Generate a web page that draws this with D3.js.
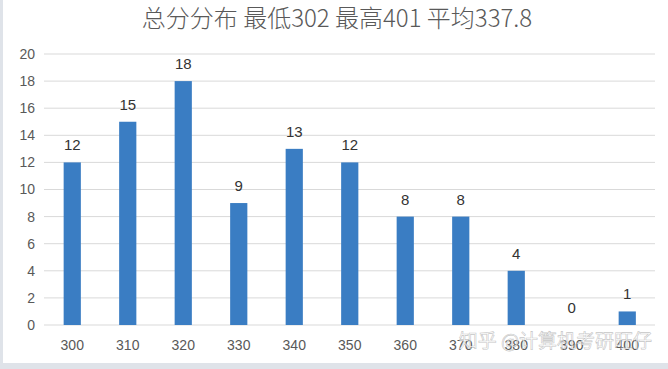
<!DOCTYPE html>
<html>
<head>
<meta charset="utf-8">
<script src="https://cdn.jsdelivr.net/npm/d3@7"></script>
<style>
  body { margin: 0; background: #fff; }
  svg { display: block; }
</style>
</head>
<body>
<svg width="668" height="369"></svg>
<script>
// score buckets and counts
const categories = ['300', '310', '320', '330', '340', '350', '360', '370', '380', '390', '400'];
const counts = [12, 15, 18, 9, 13, 12, 8, 8, 4, 0, 1];
const yTicks = [0, 2, 4, 6, 8, 10, 12, 14, 16, 18, 20];
const title = '总分分布 最低302 最高401 平均337.8';

let svg = d3.select('svg');
let width = 668, height = 369;

// frame: thin left edge, thicker band at bottom
svg.append('rect')
  .attr('x', 0).attr('y', 0)
  .attr('width', 3).attr('height', height)
  .attr('fill', '#dfe3e9');
svg.append('rect')
  .attr('x', 0).attr('y', 363)
  .attr('width', width).attr('height', 6)
  .attr('fill', '#dfe3e9');

let x = d3.scaleBand()
  .domain(categories)
  .range([44.5, 655])
  .paddingInner(0.69)
  .paddingOuter(0.345);

let y = d3.scaleLinear()
  .domain([0, 20])
  .range([325, 54]);

// gridlines
svg.append('g')
  .selectAll('line')
  .data(yTicks)
  .enter().append('line')
  .attr('x1', 44)
  .attr('x2', 655)
  .attr('y1', d => y(d))
  .attr('y2', d => y(d))
  .attr('stroke', '#d9d9d9')
  .attr('stroke-width', 1);

// y labels
svg.append('g')
  .selectAll('text')
  .data(yTicks)
  .enter().append('text')
  .attr('x', 35)
  .attr('y', d => y(d))
  .attr('dy', '0.35em')
  .attr('text-anchor', 'end')
  .attr('font-family', 'Liberation Sans, Arial, sans-serif')
  .attr('font-size', 14)
  .attr('fill', '#595959')
  .text(d => d);

// bars
svg.append('g')
  .selectAll('rect')
  .data(counts)
  .enter().append('rect')
  .attr('x', (d, i) => x(categories[i]))
  .attr('y', d => y(d))
  .attr('width', x.bandwidth())
  .attr('height', d => y(0) - y(d))
  .attr('fill', '#3a7dc3');

// value labels
svg.append('g')
  .selectAll('text')
  .data(counts)
  .enter().append('text')
  .attr('x', (d, i) => x(categories[i]) + x.bandwidth() / 2)
  .attr('y', d => y(d) - 12)
  .attr('text-anchor', 'middle')
  .attr('font-family', 'Liberation Sans, Arial, sans-serif')
  .attr('font-size', 15)
  .attr('fill', '#333')
  .text(d => d);

// x labels
svg.append('g')
  .selectAll('text')
  .data(categories)
  .enter().append('text')
  .attr('x', d => x(d) + x.bandwidth() / 2)
  .attr('y', 350)
  .attr('text-anchor', 'middle')
  .attr('font-family', 'Liberation Sans, Arial, sans-serif')
  .attr('font-size', 14)
  .attr('fill', '#595959')
  .text(d => d);

// title
svg.append('text')
  .attr('x', 337)
  .attr('y', 27)
  .attr('text-anchor', 'middle')
  .attr('font-family', 'Noto Sans CJK SC, sans-serif')
  .attr('font-weight', 300)
  .attr('font-size', 24)
  .attr('fill', '#595959')
  .text(title);

// watermark
svg.append('text')
  .attr('x', 652)
  .attr('y', 348)
  .attr('text-anchor', 'end')
  .attr('font-family', 'Noto Sans CJK SC, sans-serif')
  .attr('font-size', 19)
  .attr('fill', '#ffffff')
  .attr('fill-opacity', 0.75)
  .attr('stroke', '#888')
  .attr('stroke-opacity', 0.5)
  .attr('stroke-width', 0.6)
  .text('知乎 @计算机考研旺仔');
</script>
</body>
</html>
